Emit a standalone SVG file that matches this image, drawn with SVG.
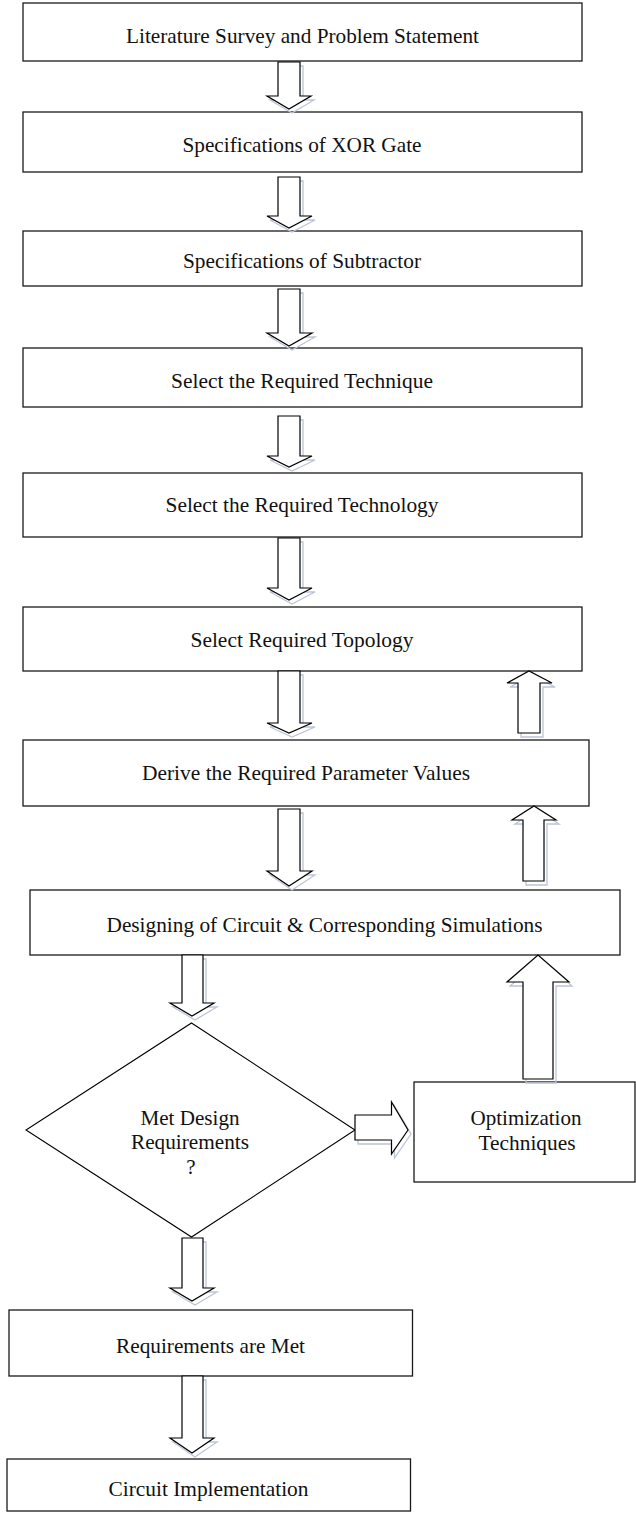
<svg xmlns="http://www.w3.org/2000/svg" width="636" height="1513" viewBox="0 0 636 1513">
<style>
.box{fill:#fff;stroke:#1a1a1a;stroke-width:1.3}
.lbl{font-family:"Liberation Serif","Times New Roman",serif;font-size:21px;fill:#111;text-anchor:middle}
.arr{fill:#fff;stroke:#000;stroke-width:1.2;stroke-linejoin:miter}
.shd{fill:none;stroke:#bcc5d4;stroke-width:1.3}
</style>
<rect width="636" height="1513" fill="#fff"/>
<g id="n1"><rect class="box" x="23" y="3" width="559" height="58"/><text class="lbl" x="302.5" y="43" textLength="353" lengthAdjust="spacingAndGlyphs">Literature Survey and Problem Statement</text></g>
<g id="n2"><rect class="box" x="23" y="112" width="559" height="60"/><text class="lbl" x="302" y="152" textLength="239" lengthAdjust="spacingAndGlyphs">Specifications of XOR Gate</text></g>
<g id="n3"><rect class="box" x="23" y="231" width="559" height="55"/><text class="lbl" x="302" y="268" textLength="238" lengthAdjust="spacingAndGlyphs">Specifications of Subtractor</text></g>
<g id="n4"><rect class="box" x="23" y="348" width="559" height="59"/><text class="lbl" x="302" y="388" textLength="262" lengthAdjust="spacingAndGlyphs">Select the Required Technique</text></g>
<g id="n5"><rect class="box" x="23" y="473" width="559" height="64"/><text class="lbl" x="302" y="512" textLength="273" lengthAdjust="spacingAndGlyphs">Select the Required Technology</text></g>
<g id="n6"><rect class="box" x="23" y="607" width="559" height="64"/><text class="lbl" x="302" y="647" textLength="223" lengthAdjust="spacingAndGlyphs">Select Required Topology</text></g>
<g id="n7"><rect class="box" x="23" y="740" width="566" height="66"/><text class="lbl" x="306" y="780" textLength="328" lengthAdjust="spacingAndGlyphs">Derive the Required Parameter Values</text></g>
<g id="n8"><rect class="box" x="30" y="890" width="590" height="65"/><text class="lbl" x="324.5" y="932" textLength="436" lengthAdjust="spacingAndGlyphs">Designing of Circuit &amp; Corresponding Simulations</text></g>
<g id="n9"><polygon points="191.5,1023 355,1130 191.5,1237 26,1130" fill="#fff" stroke="#000" stroke-width="1.1"/>
<text class="lbl" x="190" y="1125" textLength="99" lengthAdjust="spacingAndGlyphs">Met Design</text>
<text class="lbl" x="190" y="1149" textLength="118" lengthAdjust="spacingAndGlyphs">Requirements</text>
<text class="lbl" x="191" y="1174">?</text></g>
<g id="n10"><rect class="box" x="414" y="1082" width="221" height="100"/>
<text class="lbl" x="526" y="1125" textLength="111" lengthAdjust="spacingAndGlyphs">Optimization</text>
<text class="lbl" x="527" y="1150" textLength="97" lengthAdjust="spacingAndGlyphs">Techniques</text></g>
<g id="n11"><rect class="box" x="9" y="1310" width="403.5" height="66"/><text class="lbl" x="210.5" y="1353" textLength="189" lengthAdjust="spacingAndGlyphs">Requirements are Met</text></g>
<g id="n12"><rect class="box" x="7" y="1459" width="403.5" height="52"/><text class="lbl" x="208.5" y="1496" textLength="200" lengthAdjust="spacingAndGlyphs">Circuit Implementation</text></g>
<g id="connectors">
<g transform="translate(3,4)" class="shd">
<polygon points="278,62 300,62 300,96 311,96 289,109 267,96 278,96"/>
<polygon points="278,177 300,177 300,216 312,216 289,228 267,216 278,216"/>
<polygon points="278,289 300,289 300,333 312,333 289,346 267,333 278,333"/>
<polygon points="278,416 300,416 300,456 312,456 289,467 267,456 278,456"/>
<polygon points="278,538 300,538 300,588 312,588 289,600 267,588 278,588"/>
<polygon points="278,671 300,671 300,723 312,723 289,733 267,723 278,723"/>
<polygon points="278,809 300,809 300,871 312,871 289,886 267,871 278,871"/>
<polygon points="182,955 203,955 203,1003 214,1003 192,1016 170,1003 182,1003"/>
<polygon points="182,1238 203,1238 203,1288 214,1288 192,1301 170,1288 182,1288"/>
<polygon points="182,1376 203,1376 203,1438 214,1438 192,1453 170,1438 182,1438"/>
<polygon points="518,733 540,733 540,683 552,683 529,671 507,683 518,683"/>
<polygon points="523,881 544,881 544,820 556,820 534,806 512,820 523,820"/>
<polygon points="523,1079 553,1079 553,982 569,982 538,955 507,982 523,982"/>
<polygon points="355,1115 391.5,1115 391.5,1102 408,1130 391.5,1154 391.5,1140 355,1140"/>
</g>
<g class="arr">
<polygon points="278,62 300,62 300,96 311,96 289,109 267,96 278,96"/>
<polygon points="278,177 300,177 300,216 312,216 289,228 267,216 278,216"/>
<polygon points="278,289 300,289 300,333 312,333 289,346 267,333 278,333"/>
<polygon points="278,416 300,416 300,456 312,456 289,467 267,456 278,456"/>
<polygon points="278,538 300,538 300,588 312,588 289,600 267,588 278,588"/>
<polygon points="278,671 300,671 300,723 312,723 289,733 267,723 278,723"/>
<polygon points="278,809 300,809 300,871 312,871 289,886 267,871 278,871"/>
<polygon points="182,955 203,955 203,1003 214,1003 192,1016 170,1003 182,1003"/>
<polygon points="182,1238 203,1238 203,1288 214,1288 192,1301 170,1288 182,1288"/>
<polygon points="182,1376 203,1376 203,1438 214,1438 192,1453 170,1438 182,1438"/>
<polygon points="518,733 540,733 540,683 552,683 529,671 507,683 518,683"/>
<polygon points="523,881 544,881 544,820 556,820 534,806 512,820 523,820"/>
<polygon points="523,1079 553,1079 553,982 569,982 538,955 507,982 523,982"/>
<polygon points="355,1115 391.5,1115 391.5,1102 408,1130 391.5,1154 391.5,1140 355,1140"/>
</g>
</g>
</svg>
